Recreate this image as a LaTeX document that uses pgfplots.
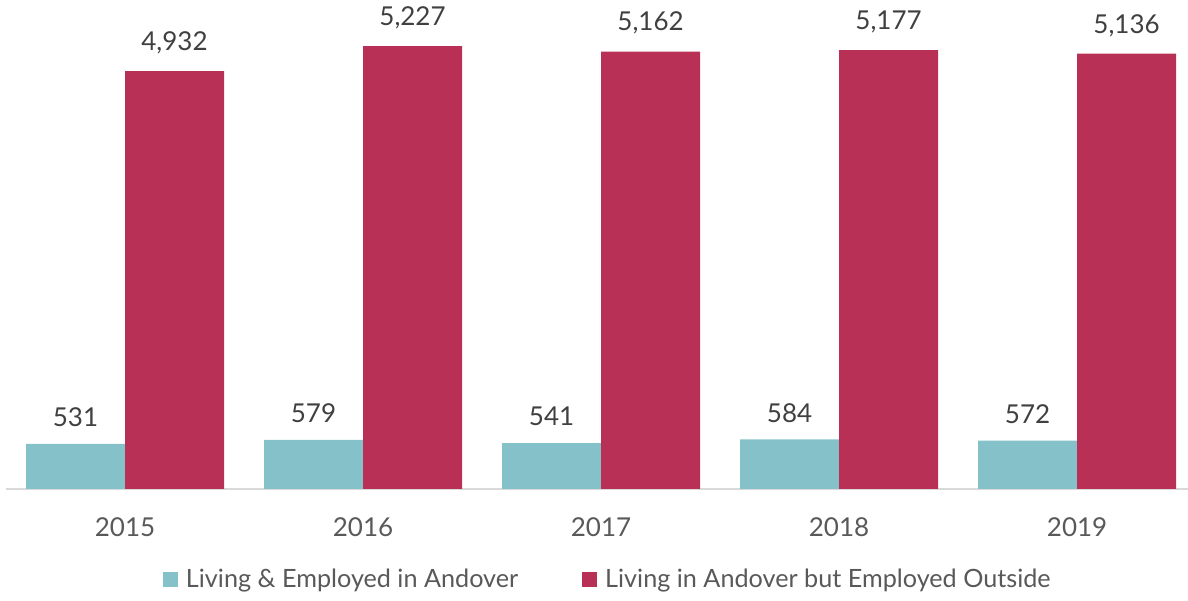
\documentclass[border=0pt]{standalone}
\usepackage{fontspec}
\setmainfont{Lato}
\usepackage{pgfplots}
\pgfplotsset{compat=1.18}
\definecolor{tealbar}{HTML}{85C1C8}
\definecolor{redbar}{HTML}{B83055}
\definecolor{labelgray}{HTML}{404040}
\definecolor{tickgray}{HTML}{595959}

\begin{document}
\begin{tikzpicture}
\begin{axis}[
    name=ax,
    scale only axis,
    width=591pt, height=244.5pt,
    ybar=0pt, bar width=49.5pt,
    xmin=-0.5, xmax=4.466,
    ymin=0, ymax=5770,
    xtick={0,1,2,3,4},
    xticklabels={2015,2016,2017,2018,2019},
    major tick length=0pt,
    axis y line=none,
    axis x line=bottom,
    x axis line style={-, draw=black!15, line width=1pt},
    ytick=\empty,
    tick label style={font=\fontsize{13}{15}\selectfont, text=tickgray},
    xticklabel style={yshift=-11pt},
    /pgf/number format/assume math mode=true,
    /pgf/number format/1000 sep={,},
    nodes near coords,
    every node near coord/.append style={font=\fontsize{13}{15}\selectfont, text=labelgray, yshift=5pt},
    legend columns=2,
    legend style={at={(0.51,-0.186)}, anchor=center, draw=none,
        font=\fontsize{12.6}{15}\selectfont, text=tickgray,
        /tikz/every odd column/.append style={column sep=2pt},
        /tikz/every even column/.append style={column sep=30pt}},
    legend image code/.code={\fill[#1] (0pt,-3.75pt) rectangle (7.5pt,3.75pt);},
    clip=false,
]
\addplot[fill=tealbar, draw=none] coordinates {
    (0,531) (1,579) (2,541) (3,584) (4,572)
};
\addplot[fill=redbar, draw=none] coordinates {
    (0,4932) (1,5227) (2,5162) (3,5177) (4,5136)
};
\legend{Living \& Employed in Andover, Living in Andover but Employed Outside}
\end{axis}
\pgfresetboundingbox
\path[use as bounding box] (ax.south west) ++(-3pt,-56pt) rectangle (ax.north east);
\end{tikzpicture}
\end{document}
